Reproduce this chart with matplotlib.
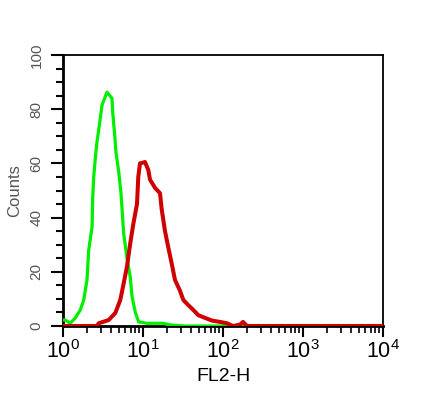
import numpy as np
import matplotlib
matplotlib.use("Agg")
import matplotlib.pyplot as plt
from matplotlib.ticker import FixedLocator, NullFormatter

plt.rcParams['font.family'] = ['Liberation Sans', 'DejaVu Sans']
plt.rcParams['mathtext.fontset'] = 'custom'
plt.rcParams['mathtext.rm'] = 'Liberation Sans'
plt.rcParams['mathtext.it'] = 'Liberation Sans'

# Isotype control (green): log10(FL2-H) positions and counts
green_log = [0.0, 0.029, 0.091, 0.154, 0.216, 0.259, 0.30, 0.321, 0.363, 0.371,
             0.384, 0.404, 0.425, 0.454, 0.4875, 0.55, 0.6125, 0.621, 0.646, 0.6625,
             0.696, 0.725, 0.759, 0.80, 0.841, 0.8625, 0.904, 0.946, 1.046, 1.25,
             1.3375, 1.525, 4.0]
green_counts = [2.2, 2.2, 1, 3, 5.9, 9.6, 17, 28, 36.5, 47,
                55, 62, 68, 74, 81.5, 86.3, 84, 79, 70.5, 64,
                57, 49, 34, 25, 18, 11, 5, 1.5, 1, 1,
                0.4, 0, 0]

# Stained sample (red)
red_log = [0.0, 0.425, 0.446, 0.571, 0.654, 0.716, 0.759, 0.80, 0.841, 0.881,
           0.925, 0.941, 0.9625, 1.025, 1.066, 1.0875, 1.15, 1.2125, 1.234, 1.275,
           1.316, 1.359, 1.40, 1.4625, 1.504, 1.566, 1.629, 1.691, 1.775, 1.8625,
           1.9625, 2.05, 2.125, 2.2125, 2.25, 2.30, 4.0]
red_counts = [0, 0, 1, 2.2, 4.8, 9.6, 15.8, 22, 30.6, 38,
              45, 55, 60, 60.5, 57.6, 54, 51, 49, 43, 35,
              29, 23, 17, 13, 9.6, 7.7, 5.9, 4, 3, 2,
              1.5, 1, 0, 0.5, 1.5, 0, 0]

y_ticks = [0, 20, 40, 60, 80, 100]
x_ticks = [1, 10, 100, 1000, 10000]
x_tick_labels = [r'$10^{0}$', r'$10^{1}$', r'$10^{2}$', r'$10^{3}$', r'$10^{4}$']

fig = plt.figure(figsize=(4.28, 3.96), dpi=100)
ax = fig.add_axes([63/428, 1-326/396, 320/428, 271/396])

ax.plot(10**np.array(green_log), green_counts, color='#00ee00', lw=2.3,
        zorder=3)
ax.plot(10**np.array(red_log), red_counts, color='#d00000', lw=2.9,
        zorder=4)

ax.set_xscale('log')
ax.set_xlim(1, 10000)
ax.set_ylim(0, 100)

ax.set_xticks(x_ticks)
ax.set_xticklabels(x_tick_labels, fontsize=15.5)
minor = [m * d for d in [1, 10, 100, 1000] for m in range(2, 10)]
ax.xaxis.set_minor_locator(FixedLocator(minor))
ax.xaxis.set_minor_formatter(NullFormatter())
ax.tick_params(axis='x', which='major', length=8, width=1.5, direction='out', pad=2)
ax.tick_params(axis='x', which='minor', length=5, width=1.2, direction='out')

ax.set_yticks(y_ticks)
ax.set_yticklabels([str(v) for v in y_ticks], rotation=90, va='center',
                   fontsize=11, color='#555555')
ax.yaxis.set_minor_locator(FixedLocator([v for v in range(0, 101, 5) if v % 20]))
ax.tick_params(axis='y', which='major', length=9, width=1.5, direction='out', pad=5)
ax.tick_params(axis='y', which='minor', length=5, width=1.5, direction='out')

for s in ax.spines.values():
    s.set_linewidth(1.3)
ax.spines['left'].set_linewidth(2)
ax.spines['bottom'].set_linewidth(2)

ax.set_xlabel('FL2-H', fontsize=14, labelpad=4)
ax.set_ylabel('Counts', fontsize=12, color='#555555', labelpad=5)

fig.savefig('out.png', dpi=100)
